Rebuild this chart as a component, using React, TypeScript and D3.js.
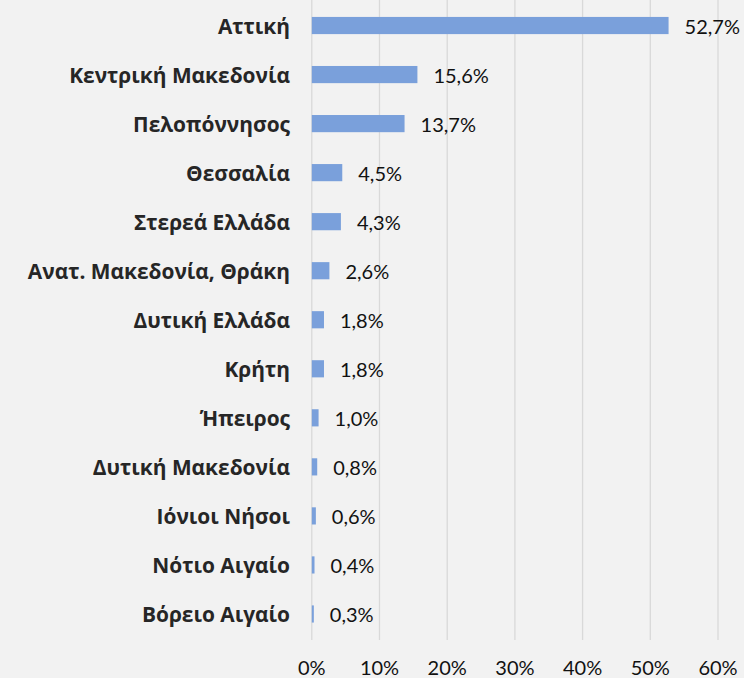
import React from "react";
import * as d3 from "d3";

const categories = [
  "Αττική",
  "Κεντρική Μακεδονία",
  "Πελοπόννησος",
  "Θεσσαλία",
  "Στερεά Ελλάδα",
  "Ανατ. Μακεδονία, Θράκη",
  "Δυτική Ελλάδα",
  "Κρήτη",
  "Ήπειρος",
  "Δυτική Μακεδονία",
  "Ιόνιοι Νήσοι",
  "Νότιο Αιγαίο",
  "Βόρειο Αιγαίο",
];
const values = [52.7, 15.6, 13.7, 4.5, 4.3, 2.6, 1.8, 1.8, 1.0, 0.8, 0.6, 0.4, 0.3];
const ticks = [0, 10, 20, 30, 40, 50, 60];

const W = 744;
const H = 678;

export default function App() {
  const x = d3.scaleLinear().domain([0, 60]).range([311.8, 718]);
  const y = d3.scaleBand<string>().domain(categories).range([1, 638.5]).paddingInner(0.65).paddingOuter(0.325);
  const fmt = (v: number) => v.toFixed(1).replace(".", ",") + "%";
  return (
    <svg width={W} height={H} style={{ position: "absolute", left: 0, top: 0, background: "#f2f2f2" }}>
      <rect x={0} y={0} width={W} height={H} fill="#f2f2f2" />
      {ticks.map((t) => (
        <line key={t} x1={x(t)} x2={x(t)} y1={0} y2={640} stroke="#d9d9d9" strokeWidth={1.3} />
      ))}
      {categories.map((c, i) => (
        <g key={c}>
          <rect x={x(0)} y={y(c)} width={x(values[i]) - x(0)} height={y.bandwidth()} fill="#7aa0db" />
          <text
            x={290}
            y={(y(c) as number) + y.bandwidth() / 2}
            textAnchor="end"
            dominantBaseline="central"
            fontFamily="'Open Sans', sans-serif"
            fontWeight={700}
            fontSize={20.9}
            fill="#262626"
          >
            {c}
          </text>
          <text
            x={x(values[i]) + 16}
            y={(y(c) as number) + y.bandwidth() / 2}
            dominantBaseline="central"
            fontFamily="Lato, sans-serif"
            fontSize={20}
            fill="#111"
          >
            {fmt(values[i])}
          </text>
        </g>
      ))}
      {ticks.map((t) => (
        <text
          key={"t" + t}
          x={x(t)}
          y={667}
          textAnchor="middle"
          dominantBaseline="central"
          fontFamily="Lato, sans-serif"
          fontSize={20}
          fill="#111"
        >
          {t + "%"}
        </text>
      ))}
    </svg>
  );
}
